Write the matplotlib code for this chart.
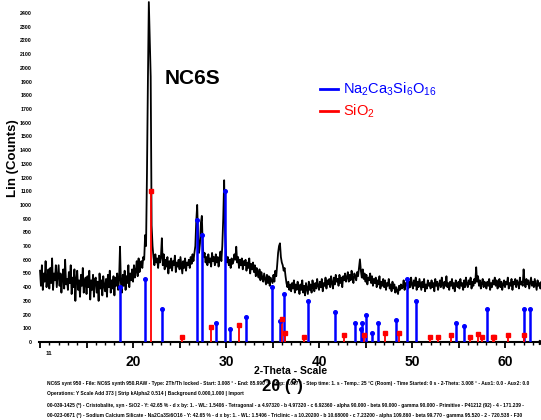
import numpy as np
import matplotlib
matplotlib.use("Agg")
import matplotlib.pyplot as plt
from matplotlib.lines import Line2D

FONT = ['Liberation Sans', 'DejaVu Sans']
plt.rcParams['font.family'] = FONT
plt.rcParams['mathtext.fontset'] = 'custom'
plt.rcParams['mathtext.rm'] = 'Liberation Sans'
plt.rcParams['mathtext.bf'] = 'Liberation Sans:bold'
plt.rcParams['mathtext.it'] = 'Liberation Sans:italic'

# ---------------- data ----------------
theta_start = 10.0
theta_step = 0.1
counts = [
    520, 410, 560, 380, 500, 440, 590, 400, 470, 530,   # 10
    390, 540, 430, 610, 380, 500, 450, 560, 400, 480,   # 11
    560, 410, 500, 360, 470, 530, 390, 600, 420, 460,   # 12
    380, 510, 430, 560, 350, 470, 400, 530, 300, 460,   # 13
    520, 380, 450, 330, 490, 410, 540, 360, 430, 470,   # 14
    350, 480, 400, 520, 310, 450, 380, 490, 330, 460,   # 15
    470, 360, 440, 300, 500, 390, 450, 340, 480, 410,   # 16
    370, 460, 330, 490, 400, 520, 360, 450, 390, 480,   # 17
    340, 470, 410, 500, 380, 450, 695, 430, 360, 490,   # 18
    410, 520, 380, 480, 430, 560, 400, 500, 450, 530,   # 19
    440, 560, 470, 520, 590, 480, 610, 510, 560, 590,   # 20
    540, 620, 600, 780, 700, 1230, 1900, 2480, 2200, 1935,  # 21
    850, 700, 620, 560, 640, 580, 610, 540, 630, 580,   # 22
    620, 757, 560, 640, 530, 600, 550, 620, 500, 590,   # 23
    540, 610, 520, 590, 560, 630, 510, 580, 550, 600,   # 24
    530, 620, 560, 500, 590, 540, 610, 520, 580, 560,   # 25
    600, 540, 620, 570, 640, 590, 650, 700, 880, 1000,  # 26
    760, 650, 720, 870, 920, 700, 620, 650, 580, 620,   # 27
    560, 640, 580, 610, 550, 650, 590, 620, 560, 640,   # 28
    580, 620, 550, 610, 660, 590, 700, 900, 1180, 800,  # 29
    640, 580, 620, 560, 600, 540, 610, 570, 590, 640,   # 30
    600, 695, 580, 620, 540, 600, 560, 610, 530, 590,   # 31
    560, 600, 520, 580, 540, 610, 500, 570, 530, 580,   # 32
    510, 560, 480, 540, 500, 470, 530, 450, 510, 470,   # 33
    440, 500, 460, 420, 490, 430, 480, 410, 470, 450,   # 34
    430, 490, 440, 520, 480, 560, 650, 700, 720, 620,   # 35
    580, 560, 520, 540, 480, 430, 400, 440, 380, 420,   # 36
    370, 430, 390, 450, 360, 420, 380, 440, 400, 350,   # 37
    420, 380, 450, 360, 410, 340, 430, 390, 350, 440,   # 38
    380, 420, 360, 450, 400, 370, 430, 390, 460, 410,   # 39
    380, 440, 400, 460, 370, 430, 410, 470, 390, 450,   # 40
    420, 460, 400, 480, 430, 390, 470, 420, 490, 440,   # 41
    460, 410, 490, 430, 470, 400, 480, 450, 500, 440,   # 42
    470, 510, 440, 490, 450, 520, 470, 430, 500, 480,   # 43
    450, 510, 480, 540, 603, 520, 470, 530, 460, 500,   # 44
    440, 490, 420, 470, 450, 500, 430, 480, 410, 460,   # 45
    430, 470, 400, 450, 420, 480, 390, 440, 410, 460,   # 46
    400, 450, 380, 430, 410, 460, 390, 420, 370, 440,   # 47
    390, 420, 360, 400, 370, 350, 410, 380, 420, 390,   # 48
    400, 450, 380, 430, 410, 460, 390, 440, 400, 470,   # 49
    420, 390, 450, 410, 470, 380, 440, 400, 460, 420,   # 50
    380, 440, 400, 460, 370, 420, 390, 450, 410, 430,   # 51
    390, 450, 400, 430, 370, 460, 410, 440, 380, 420,   # 52
    450, 400, 470, 420, 390, 440, 410, 480, 400, 430,   # 53
    380, 440, 410, 460, 390, 430, 370, 450, 420, 400,   # 54
    440, 390, 460, 410, 430, 380, 450, 400, 470, 420,   # 55
    400, 450, 420, 470, 390, 440, 410, 460, 430, 545,   # 56
    440, 480, 410, 450, 390, 430, 460, 400, 440, 420,   # 57
    390, 440, 410, 460, 380, 430, 400, 450, 420, 470,   # 58
    410, 450, 390, 430, 460, 400, 440, 380, 420, 450,   # 59
    400, 440, 420, 470, 390, 430, 410, 460, 380, 440,   # 60
    420, 460, 400, 450, 430, 390, 470, 420, 440, 410,   # 61
    530, 440, 400, 460, 420, 450, 390, 430, 470, 410,   # 62
    440, 400, 460, 420, 380, 450, 410, 430, 390, 440,   # 63
    420,
]
two_theta = theta_start + theta_step * np.arange(len(counts))

# Na2Ca3Si6O16 reference sticks
nacs_pos = [18.6, 21.29, 23.15, 26.85, 27.42, 28.92, 29.86, 30.43, 32.15, 34.98,
            35.8, 36.2, 38.85, 41.72, 43.87, 44.48, 44.59, 45.09, 45.73, 46.34,
            48.24, 49.46, 50.43, 54.73, 55.59, 58.06, 62.07, 62.69]
nacs_int = [403, 457, 243, 890, 780, 136, 1104, 92, 180, 403,
            156, 350, 297, 221, 136, 92, 136, 199, 68, 136,
            158, 460, 297, 136, 114, 243, 243, 243]

# SiO2 (cristobalite) reference sticks
sio2_pos = [21.94, 25.3, 28.42, 31.43, 36.0, 36.38, 38.39, 42.65, 44.8, 47.06,
            48.6, 51.94, 52.83, 54.16, 56.2, 57.06, 57.5, 58.68, 58.85, 60.29, 62.0]
sio2_int = [1104, 39, 112, 126, 170, 68, 39, 49, 49, 68,
            68, 39, 39, 49, 39, 58, 39, 39, 39, 49, 49]

y_ticks = list(range(0, 2401, 100))
x_label_ticks = [20, 30, 40, 50, 60]

meta_lines = [
    "NC6S synt 950 - File: NC6S synth 950.RAW - Type: 2Th/Th locked - Start: 3.008 \u00b0 - End: 85.990 \u00b0 - Step: 0.017 \u00b0 - Step time: 1. s - Temp.: 25 \u00b0C (Room) - Time Started: 0 s - 2-Theta: 3.008 \u00b0 - Aux1: 0.0 - Aux2: 0.0",
    "Operations: Y Scale Add 373 | Strip kAlpha2 0.514 | Background 0.000,1.000 | Import",
    "00-039-1425 (*) - Cristobalite, syn - SiO2 - Y: 42.65 % - d x by: 1. - WL: 1.5406 - Tetragonal - a 4.97320 - b 4.97320 - c 6.92360 - alpha 90.000 - beta 90.000 - gamma 90.000 - Primitive - P41212 (92) - 4 - 171.239 -",
    "00-023-0671 (*) - Sodium Calcium Silicate - Na2Ca3Si6O16 - Y: 42.65 % - d x by: 1. - WL: 1.5406 - Triclinic - a 10.20200 - b 10.68000 - c 7.23200 - alpha 109.860 - beta 99.770 - gamma 95.520 - 2 - 720.538 - F30",
]

# ---------------- figure ----------------
W, H = 541, 420
fig = plt.figure(figsize=(W / 100, H / 100), dpi=100)
fig.patch.set_facecolor('white')
ax = fig.add_axes([39 / W, 1 - 342 / H, 1 - 39 / W, 342 / H])

ax.plot(two_theta, counts, color='black', lw=1.3, zorder=2)

ax.vlines(nacs_pos, 0, nacs_int, color='#0000ff', lw=1.8, zorder=3)
ax.plot(nacs_pos, nacs_int, 'o', color='#0000ff', ms=2.6, zorder=4)
ax.vlines(sio2_pos, 0, sio2_int, color='#ff0000', lw=1.3, zorder=3)
ax.plot(sio2_pos, sio2_int, 's', color='#ff0000', ms=3.0, zorder=4)

ax.set_xlim(9.89, 63.87)
ax.set_ylim(0, 2495)

for s in ['top', 'right', 'left']:
    ax.spines[s].set_visible(False)
ax.spines['bottom'].set_linewidth(1.5)

ax.set_xticks(np.arange(10, 64, 5))
ax.set_xticklabels([str(v) if v in x_label_ticks else '' for v in np.arange(10, 64, 5)])
ax.set_xticks(np.arange(10, 64, 1), minor=True)
ax.tick_params(axis='x', which='major', length=4, width=1.3, pad=5,
               labelsize=10, direction='out')
ax.tick_params(axis='x', which='minor', length=2, width=1.0)
for lab in ax.get_xticklabels():
    lab.set_fontweight('bold')

ax.set_yticks(y_ticks)
ax.set_yticklabels([str(v) for v in y_ticks])
ax.tick_params(axis='y', length=0, pad=5, labelsize=3.8)
for lab in ax.get_yticklabels():
    lab.set_fontweight('bold')

ax.text(11, -0.035, '11', transform=ax.get_xaxis_transform(), ha='center',
        va='center', fontsize=4.5, fontweight='bold')

# arrow at end of x axis
ax.plot([1.0], [0], marker='>', color='black', ms=3,
        transform=ax.transAxes, clip_on=False, zorder=5)

fig.text(13 / W, 1 - 158 / H, 'Lin (Counts)', rotation=90, ha='center',
         va='center', fontsize=9.5, fontweight='bold')

fig.text(193 / W, 1 - 78 / H, 'NC6S', ha='center', va='center',
         fontsize=15, fontweight='bold')

fig.add_artist(Line2D([320 / W, 338 / W], [1 - 89 / H] * 2, color='#0000ff',
                      lw=2, transform=fig.transFigure))
fig.add_artist(Line2D([320 / W, 338 / W], [1 - 111 / H] * 2, color='#ff0000',
                      lw=2, transform=fig.transFigure))
fig.text(343 / W, 1 - 89 / H, r'Na$_2$Ca$_3$Si$_6$O$_{16}$', ha='left',
         va='center', fontsize=10.5, color='#0000ff')
fig.text(343 / W, 1 - 111 / H, r'SiO$_2$', ha='left', va='center',
         fontsize=10.5, color='#ff0000')

fig.text(291 / W, 1 - 371 / H, '2-Theta - Scale', ha='center', va='center',
         fontsize=7.5, fontweight='bold')

meta_y = [383, 394, 405, 416]
for yy, line in zip(meta_y, meta_lines):
    fig.text(47 / W, 1 - yy / H, line, ha='left', va='center',
             fontsize=3.55, fontweight='bold')

fig.text(282 / W, 1 - 386 / H, '2\u03b8 (\u00b0)', ha='center', va='center',
         fontsize=12, fontweight='bold')

fig.savefig('out.png', dpi=100)
